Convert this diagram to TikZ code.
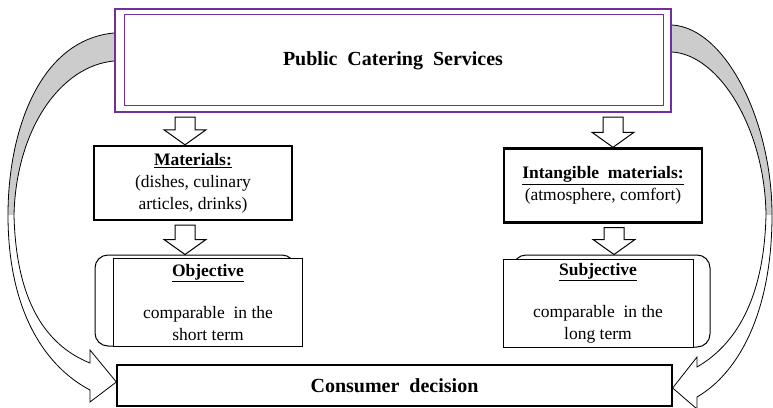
\documentclass[tikz,border=0pt]{standalone}
\usepackage{fontspec}
\setmainfont{Liberation Serif}
\usetikzlibrary{calc,positioning}
\usepackage{xcolor}
\definecolor{frameviolet}{RGB}{112,48,160}
\colorlet{bandgray}{gray!40}
\newcommand{\bodyfont}{\fontsize{17.5}{22}\selectfont}
\newcommand{\headfont}{\fontsize{20}{24}\selectfont\bfseries}
\tikzset{
    titlesty/.style={draw=frameviolet,line width=2.2pt,fill=white,rectangle,minimum width=556pt,minimum height=103pt,font=\headfont},
    innersty/.style={draw=frameviolet,line width=1.1pt},
    kindsty/.style={draw,line width=2.4pt,fill=white,rectangle,minimum width=198pt,minimum height=74pt,align=center,font=\bodyfont,inner sep=0pt},
    groupsty/.style={draw,line width=1pt,fill=white,rectangle,minimum width=189pt,minimum height=88pt,align=center,font=\bodyfont,inner sep=0pt},
    backsty/.style={draw,line width=1pt,fill=white,rectangle,rounded corners=13pt},
    decisty/.style={draw,line width=1.3pt,fill=white,rectangle,minimum width=555pt,minimum height=41pt,font=\headfont},
    blocksty/.style={draw,line width=1pt,fill=white},
    bandsty/.style={draw,line width=0.8pt},
    shadesty/.style={fill=bandgray},
}
% x of the arrow, node above, node below
\newcommand{\downblock}[3]{%
  \draw[blocksty] let \p1=(#2.south), \p2=(#3.north) in
    (#1pt-10pt,\y1-4pt) -- (#1pt+10pt,\y1-4pt) -- (#1pt+10pt,\y2+15pt) -- (#1pt+21pt,\y2+15pt)
    -- (#1pt,\y2) -- (#1pt-21pt,\y2+15pt) -- (#1pt-10pt,\y2+15pt) -- cycle;}

\begin{document}
\begin{tikzpicture}[x=1pt,y=-1pt]
  \useasboundingbox (0,0) rectangle (773,407);

  \node[titlesty] (pcs) at (393,60.5) {Public~ Catering~ Services};
  \draw[innersty] ($(pcs.north west)+(11,7)$) rectangle ($(pcs.south east)+(-9,-8)$);

  \node[kindsty] (mat) at (193,183) {\underline{\textbf{Materials:}}\\(dishes, culinary\\articles, drinks)};
  \node[kindsty] (imat) at (603,185.5) {\underline{\textbf{Intangible~ materials:}}\\(atmosphere, comfort)};

  \node[backsty,minimum width=200pt,minimum height=91pt] (objback) at (195,300.5) {};
  \node[groupsty] (obj) at (208,302.5) {\underline{\textbf{Objective}}\\[20pt]comparable~ in the\\short term};
  \node[backsty,minimum width=197pt,minimum height=92pt] (subback) at (611.5,301) {};
  \node[groupsty,minimum width=190pt] (sub) at (598,303) {\underline{\textbf{Subjective}}\\[20pt]comparable~ in the\\long term};

  \node[decisty] (cd) at (394.5,385.5) {Consumer~ decision};

  \downblock{185}{pcs}{mat}
  \downblock{613}{pcs}{imat}
  \downblock{185}{mat}{objback}
  \downblock{614}{imat}{subback}

  % left band
  \fill[shadesty] ($(pcs.west)+(0,-27.5)$) .. controls (40,40) and (8,130) .. (8,215) -- (14,215)
    .. controls (16,130) and (60,66) .. ($(pcs.west)+(0,0.5)$) -- cycle;
  \draw[bandsty] ($(pcs.west)+(0,-27.5)$) .. controls (40,40) and (8,130) .. (8,215)
    .. controls (8,315) and (48,368) .. (90,390) -- (90,402) -- ($(cd.west)+(0,-3.5)$) -- (90,350) -- (90,363)
    .. controls (45,345) and (16,300) .. (14,215) .. controls (16,130) and (60,66) .. ($(pcs.west)+(0,0.5)$);

  % right band
  \fill[shadesty] ($(pcs.east)+(0,-35.5)$) .. controls (725,28) and (772,120) .. (772,215) -- (766,215)
    .. controls (765,130) and (720,55) .. ($(pcs.east)+(0,-8.5)$) -- cycle;
  \draw[bandsty] ($(pcs.east)+(0,-35.5)$) .. controls (725,28) and (772,120) .. (772,215)
    .. controls (772,310) and (740,372) .. (697,397) -- (697,409) -- ($(cd.east)+(0,2.5)$) -- (697,357) -- (697,367)
    .. controls (735,345) and (764,300) .. (766,215) .. controls (765,130) and (720,55) .. ($(pcs.east)+(0,-8.5)$);
\end{tikzpicture}
\end{document}
